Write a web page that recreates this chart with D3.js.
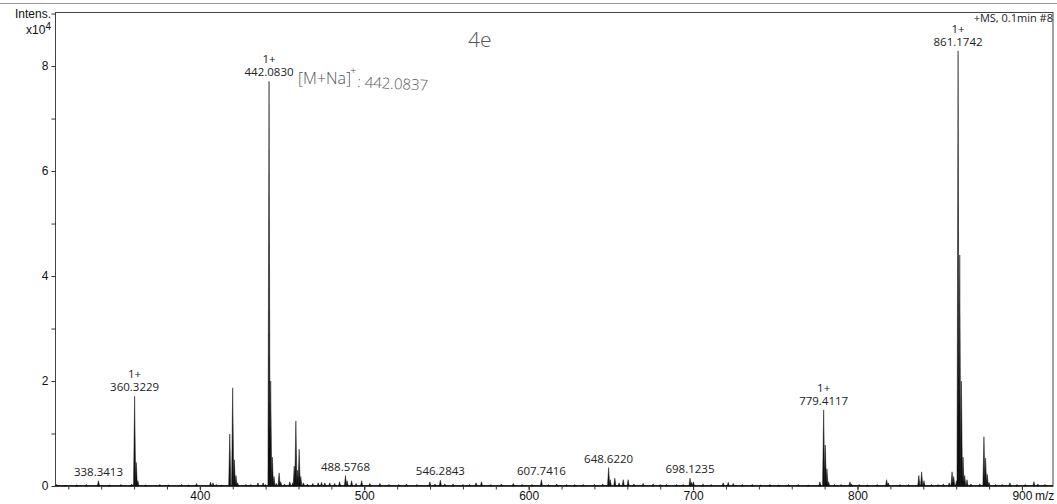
<!DOCTYPE html>
<html>
<head>
<meta charset="utf-8">
<script src="https://cdn.jsdelivr.net/npm/d3@7"></script>
<style>
  body { margin: 0; background: #fff; }
  .axis text { font-family: "Liberation Sans", Arial, sans-serif; font-size: 12px; fill: #111; }
  .axis path, .axis line { stroke: #333; }
  .plabel { font-family: "Open Sans", sans-serif; font-size: 11.5px; fill: #222; text-anchor: middle; }
  .hand { font-family: "Open Sans", sans-serif; font-weight: 300; fill: #555; }
</style>
</head>
<body>
<svg class="chart"></svg>
<script>
// peak list: m/z and intensity (x10^4)
var peakMz = [
  312.8, 318, 325, 331, 338.34, 345, 352, 358.5, 360.32, 361.32, 362.3, 367, 375.7, 381, 388.9, 393, 398,
  406.5, 408, 410, 413, 418.2, 419.97, 420.97, 421.97, 423, 428, 431, 435.3, 438.5, 440,
  442.08, 443.08, 444.08, 445.1, 446.5, 448.2, 449.2, 451.5, 454.7, 456.5, 457.4, 458.4, 459.4, 460.4, 461.4,
  463, 465.5, 468.7, 472, 474, 476, 479, 482, 485, 488.58, 489.6, 492.3, 495, 498.4,
  503.4, 509.5, 515, 521, 525.7, 532, 539.9, 543, 546.28, 549, 554, 560, 564, 568, 571.3, 577, 583.4, 590.6, 596,
  602, 607.74, 612, 617, 623, 628, 633.2, 640, 645, 648.62, 649.6, 652.4, 655, 657.5, 660.5, 664, 669.6, 675.7,
  680, 683.8, 690, 694, 698.12, 699.1, 700.2, 706, 711, 718.3, 721.4, 724.4, 730, 736, 741, 746.7, 752, 758, 764,
  770, 777.1, 779.41, 780.41, 781.41, 782.4, 786, 790, 795.4, 796.4, 801, 806, 812, 817.7, 818.7, 825.8, 831,
  837.3, 839, 840.4, 845, 849, 852.2, 855.8, 857.5, 858.5, 860.2, 861.17, 862.18, 863.18, 864.18, 865.2, 866.6,
  869, 874.4, 876.9, 877.9, 878.9, 880, 884, 888, 892.7, 897, 902, 907.3, 909.7, 914
];
var peakInt = [
  0.03, 0.02, 0.02, 0.03, 0.10, 0.02, 0.03, 0.04, 1.71, 0.45, 0.10, 0.02, 0.03, 0.02, 0.03, 0.02, 0.05,
  0.07, 0.06, 0.03, 0.02, 0.99, 1.87, 0.50, 0.20, 0.06, 0.03, 0.03, 0.06, 0.06, 0.03,
  7.71, 2.00, 0.55, 0.18, 0.05, 0.25, 0.08, 0.04, 0.08, 0.06, 0.38, 1.24, 0.30, 0.70, 0.18,
  0.06, 0.04, 0.05, 0.06, 0.07, 0.06, 0.06, 0.05, 0.08, 0.20, 0.10, 0.10, 0.05, 0.10,
  0.05, 0.05, 0.03, 0.03, 0.04, 0.03, 0.08, 0.04, 0.11, 0.04, 0.04, 0.03, 0.03, 0.06, 0.08, 0.03, 0.04, 0.05, 0.03,
  0.03, 0.12, 0.03, 0.04, 0.03, 0.03, 0.03, 0.03, 0.04, 0.35, 0.12, 0.15, 0.06, 0.12, 0.12, 0.04, 0.05, 0.04,
  0.03, 0.03, 0.03, 0.03, 0.15, 0.07, 0.08, 0.04, 0.03, 0.06, 0.07, 0.05, 0.03, 0.03, 0.02, 0.03, 0.02, 0.03, 0.03,
  0.02, 0.08, 1.45, 0.78, 0.33, 0.08, 0.03, 0.03, 0.08, 0.04, 0.03, 0.02, 0.03, 0.12, 0.06, 0.03, 0.03,
  0.20, 0.27, 0.10, 0.03, 0.03, 0.04, 0.06, 0.27, 0.18, 0.10, 8.29, 4.40, 2.00, 0.55, 0.20, 0.12,
  0.04, 0.04, 0.94, 0.53, 0.22, 0.07, 0.03, 0.03, 0.06, 0.03, 0.03, 0.08, 0.04, 0.03
];

// annotated peaks
var labelMz = [338.3413, 360.3229, 442.0830, 488.5768, 546.2843, 607.7416, 648.6220, 698.1235, 779.4117, 861.1742];
var labelInt = [0.10, 1.71, 7.71, 0.20, 0.11, 0.12, 0.35, 0.15, 1.45, 8.29];
var labelCharge = ["", "1+", "1+", "", "", "", "", "", "1+", "1+"];

var xTicks = [400, 500, 600, 700, 800, 900];
var yTicks = [0, 2, 4, 6, 8];

var W = 1057, H = 504;
var margin = {top: 12, right: 4, bottom: 18, left: 55};

var svg = d3.select(".chart").attr("width", W).attr("height", H);

var x = d3.scaleLinear().domain([311.9, 918.9]).range([margin.left, W - margin.right]);
var y = d3.scaleLinear().domain([0, 9.03]).range([H - margin.bottom, margin.top]);

// grey rule across the top of the page
svg.append("line")
  .attr("x1", 0).attr("x2", W).attr("y1", 3.5).attr("y2", 3.5)
  .attr("stroke", "#999").attr("stroke-width", 1);

// frame
svg.append("rect")
  .attr("x", margin.left + 0.5).attr("y", margin.top + 0.5)
  .attr("width", W - margin.right - margin.left - 0.5)
  .attr("height", H - margin.bottom - margin.top)
  .attr("fill", "none").attr("stroke", "#444");

// minor ticks
var xMinor = d3.range(320, 919, 20);
svg.append("g").attr("class", "axis")
  .attr("transform", "translate(0," + (H - margin.bottom + 0.5) + ")")
  .call(d3.axisBottom(x).tickValues(xMinor).tickSize(3).tickSizeOuter(0).tickFormat(""))
  .select(".domain").remove();
svg.append("g").attr("class", "axis")
  .attr("transform", "translate(" + (margin.left + 0.5) + ",0)")
  .call(d3.axisLeft(y).tickValues(d3.range(1, 10, 2)).tickSize(4).tickSizeOuter(0).tickFormat(""))
  .select(".domain").remove();

// major axes
var xAxis = svg.append("g").attr("class", "axis")
  .attr("transform", "translate(0," + (H - margin.bottom + 0.5) + ")")
  .call(d3.axisBottom(x).tickValues(xTicks).tickSize(4).tickSizeOuter(0).tickPadding(1));
xAxis.select(".domain").remove();

var yAxis = svg.append("g").attr("class", "axis")
  .attr("transform", "translate(" + (margin.left + 0.5) + ",0)")
  .call(d3.axisLeft(y).tickValues(yTicks).tickSize(4).tickSizeOuter(0).tickPadding(3));
yAxis.select(".domain").remove();

// m/z unit after last tick label
svg.append("text")
  .attr("x", x(900) + 13).attr("y", 500)
  .style("font-family", "Liberation Sans, Arial, sans-serif").style("font-size", "12px")
  .attr("fill", "#111")
  .text("m/z");

// y axis title
svg.append("text")
  .attr("x", 51).attr("y", 18).attr("text-anchor", "end")
  .style("font-family", "Liberation Sans, Arial, sans-serif").style("font-size", "12px")
  .attr("fill", "#111").text("Intens.");
var yt2 = svg.append("text")
  .attr("x", 51).attr("y", 34).attr("text-anchor", "end")
  .style("font-family", "Liberation Sans, Arial, sans-serif").style("font-size", "12px")
  .attr("fill", "#111");
yt2.append("tspan").text("x10");
yt2.append("tspan").attr("dy", -4).style("font-size", "10px").text("4");

// spectrum: baseline + peaks
svg.append("line")
  .attr("x1", x(311.9)).attr("x2", x(918.9))
  .attr("y1", y(0) - 0.5).attr("y2", y(0) - 0.5)
  .attr("stroke", "#222").attr("stroke-width", 1);

var peaks = peakMz.map(function(m, i) { return {mz: m, v: peakInt[i]}; });
svg.append("g").attr("class", "peaks")
  .selectAll("path")
  .data(peaks)
  .enter().append("path")
    .attr("d", function(d) {
      var px = x(d.mz), py = y(d.v), b = y(0);
      return "M" + (px - 1.1) + "," + b + "L" + px + "," + py + "L" + (px + 1.1) + "," + b + "Z";
    })
    .attr("fill", "#111")
    .attr("stroke", "#111")
    .attr("stroke-width", 0.5);

// peak annotations
var labels = labelMz.map(function(m, i) { return {mz: m, v: labelInt[i], z: labelCharge[i]}; });
var lg = svg.append("g").selectAll("g").data(labels).enter().append("g");
lg.append("text")
  .attr("class", "plabel")
  .attr("x", function(d) { return x(d.mz); })
  .attr("y", function(d) { return y(d.v) - 5; })
  .text(function(d) { return d.mz.toFixed(4); });
lg.append("text")
  .attr("class", "plabel")
  .attr("x", function(d) { return x(d.mz); })
  .attr("y", function(d) { return y(d.v) - 18; })
  .text(function(d) { return d.z; });

// instrument tag
svg.append("text")
  .attr("x", W - 4).attr("y", 22).attr("text-anchor", "end")
  .style("font-family", "Open Sans, sans-serif").style("font-size", "11px")
  .attr("fill", "#222").text("+MS, 0.1min #8");

// handwritten notes
svg.append("text").attr("class", "hand")
  .attr("x", 298).attr("y", 84).style("font-size", "16px")
  .text("[M+Na]");
svg.append("text").attr("class", "hand")
  .attr("x", 350).attr("y", 74).style("font-size", "11px")
  .text("+");
svg.append("text").attr("class", "hand")
  .attr("x", 357).attr("y", 87).style("font-size", "15px")
  .attr("transform", "rotate(3,357,87)")
  .text(": 442.0837");
svg.append("text").attr("class", "hand")
  .attr("x", 468).attr("y", 47).style("font-size", "21px")
  .text("4e");
</script>
</body>
</html>
